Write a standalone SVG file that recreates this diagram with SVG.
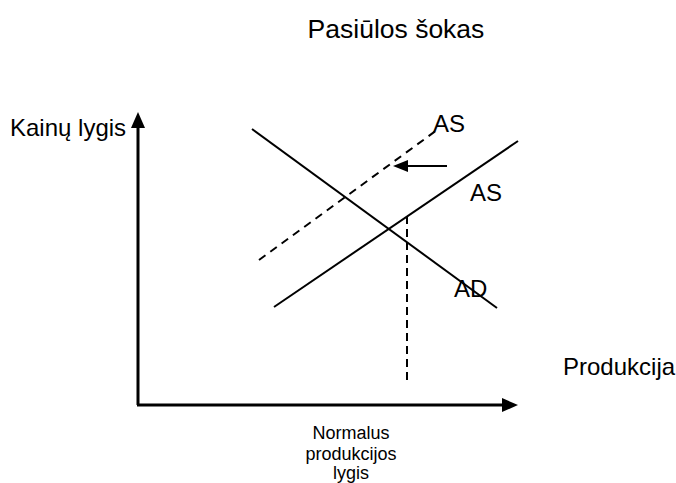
<svg xmlns="http://www.w3.org/2000/svg" width="676" height="483" viewBox="0 0 676 483">
<style>
text{font-family:"Liberation Sans",Arial,sans-serif;fill:#000}
.big{font-size:24px}
.small{font-size:18px}
.ln{stroke:#000;stroke-width:2;fill:none}
.ax{stroke:#000;stroke-width:3;fill:none}
.dash{stroke-dasharray:8 6}
</style>
<rect width="676" height="483" fill="#fff"/>
<g id="title"><text x="396" y="38" text-anchor="middle" font-size="26.5">Pasiūlos šokas</text></g>
<g id="axes">
<line class="ax" x1="138" y1="405" x2="138" y2="125"/>
<polygon points="138,112 131,128 145,128" fill="#000"/>
<line class="ax" x1="137" y1="405" x2="504" y2="405"/>
<polygon points="518,405 502,398 502,412" fill="#000"/>
</g>
<g id="connectors">
<line id="ad" class="ln" x1="252" y1="129" x2="497" y2="308"/>
<line id="as" class="ln" x1="274" y1="307" x2="518" y2="141"/>
<line id="as-shift" class="ln dash" x1="259" y1="260" x2="437" y2="130"/>
<line id="normal" class="ln" x1="407" y1="216" x2="407" y2="385" stroke-dasharray="8 5"/>
<line id="shift-arrow" class="ln" x1="447" y1="166" x2="406" y2="166"/>
<polygon points="393,166 408,160 408,172" fill="#000"/>
</g>
<g id="label-y"><text class="big" x="10" y="136">Kainų lygis</text></g>
<g id="label-x"><text class="big" x="563" y="375">Produkcija</text></g>
<g id="label-as2"><text class="big" x="433" y="132">AS</text></g>
<g id="label-as1"><text class="big" x="470" y="201">AS</text></g>
<g id="label-ad"><text class="big" x="454" y="297">AD</text></g>
<g id="label-normal">
<text class="small" x="351" y="439" text-anchor="middle">Normalus</text>
<text class="small" x="351" y="460" text-anchor="middle">produkcijos</text>
<text class="small" x="351" y="479" text-anchor="middle">lygis</text>
</g>
</svg>
